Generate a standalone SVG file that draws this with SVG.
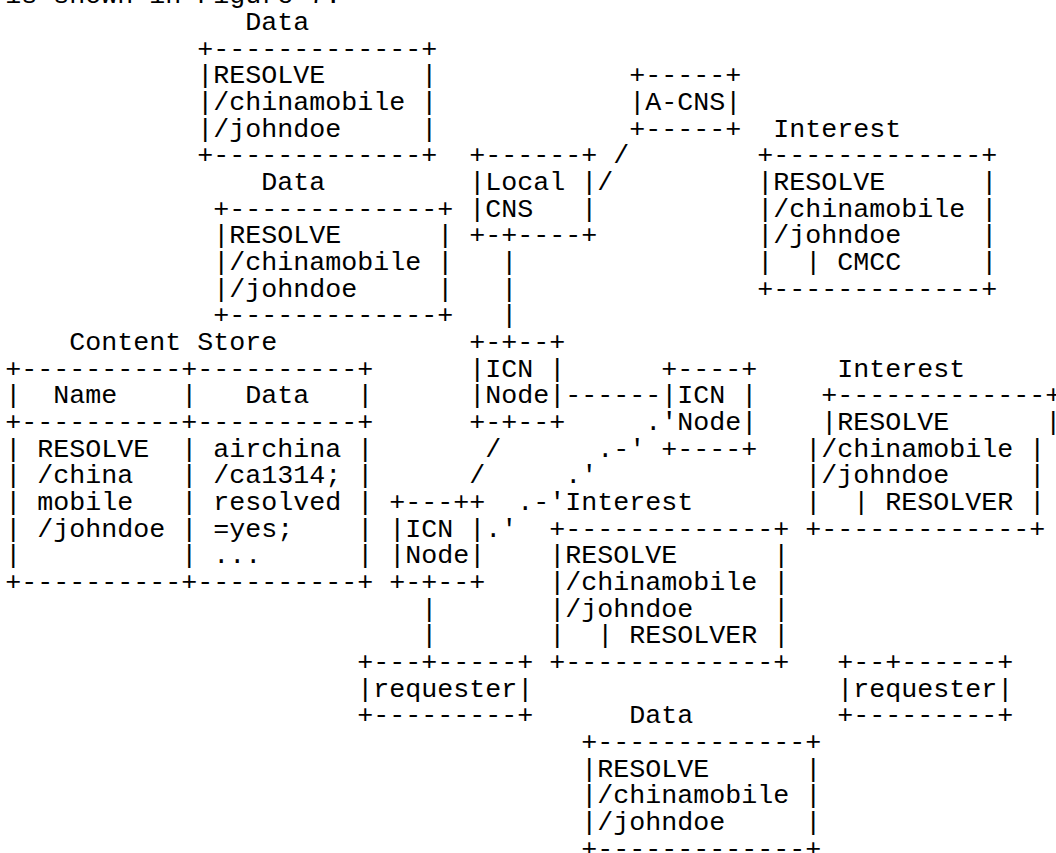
<svg xmlns="http://www.w3.org/2000/svg" width="1056" height="853" viewBox="0 0 1056 853" xml:space="preserve">
<style>
text{font-family:"Liberation Mono","Courier New",monospace;font-size:26.667px;fill:#000;white-space:pre}
</style>
<rect width="1056" height="853" fill="#fff"/>
<g id="intro"><text x="5.33" y="3.33">is shown in Figure 7.</text></g>
<g id="data-top">
<text x="245.33" y="30">Data</text>
<text x="197.33" y="56.67">+-------------+</text>
<text x="197.33" y="83.33">|RESOLVE      |</text>
<text x="197.33" y="110">|/chinamobile |</text>
<text x="197.33" y="136.67">|/johndoe     |</text>
<text x="197.33" y="163.33">+-------------+</text>
</g>
<g id="a-cns">
<text x="629.33" y="83.33">+-----+</text>
<text x="629.33" y="110">|A-CNS|</text>
<text x="629.33" y="136.67">+-----+</text>
</g>
<g id="interest-cmcc">
<text x="773.33" y="136.67">Interest</text>
<text x="757.33" y="163.33">+-------------+</text>
<text x="757.33" y="190">|RESOLVE      |</text>
<text x="757.33" y="216.67">|/chinamobile |</text>
<text x="757.33" y="243.33">|/johndoe     |</text>
<text x="757.33" y="270">|  | CMCC     |</text>
<text x="757.33" y="296.67">+-------------+</text>
</g>
<g id="local-cns">
<text x="469.33" y="163.33">+------+</text>
<text x="469.33" y="190">|Local |</text>
<text x="469.33" y="216.67">|CNS   |</text>
<text x="469.33" y="243.33">+-+----+</text>
</g>
<g id="data-second">
<text x="261.33" y="190">Data</text>
<text x="213.33" y="216.67">+-------------+</text>
<text x="213.33" y="243.33">|RESOLVE      |</text>
<text x="213.33" y="270">|/chinamobile |</text>
<text x="213.33" y="296.67">|/johndoe     |</text>
<text x="213.33" y="323.33">+-------------+</text>
</g>
<g id="content-store">
<text x="69.33" y="350">Content Store</text>
<text x="5.33" y="376.67">+----------+----------+</text>
<text x="5.33" y="403.33">|  Name    |   Data   |</text>
<text x="5.33" y="430">+----------+----------+</text>
<text x="5.33" y="456.67">| RESOLVE  | airchina |</text>
<text x="5.33" y="483.33">| /china   | /ca1314; |</text>
<text x="5.33" y="510">| mobile   | resolved |</text>
<text x="5.33" y="536.67">| /johndoe | =yes;    |</text>
<text x="5.33" y="563.33">|          | ...      |</text>
<text x="5.33" y="590">+----------+----------+</text>
</g>
<g id="icn-node-top">
<text x="469.33" y="350">+-+--+</text>
<text x="469.33" y="376.67">|ICN |</text>
<text x="469.33" y="403.33">|Node|</text>
<text x="469.33" y="430">+-+--+</text>
</g>
<g id="icn-node-right">
<text x="661.33" y="376.67">+----+</text>
<text x="661.33" y="403.33">|ICN |</text>
<text x="677.33" y="430">Node|</text>
<text x="661.33" y="456.67">+----+</text>
</g>
<g id="interest-resolver-right">
<text x="837.33" y="376.67">Interest</text>
<text x="821.33" y="403.33">+-------------+</text>
<text x="821.33" y="430">|RESOLVE      |</text>
<text x="805.33" y="456.67">|/chinamobile |</text>
<text x="805.33" y="483.33">|/johndoe     |</text>
<text x="805.33" y="510">|  | RESOLVER |</text>
<text x="805.33" y="536.67">+-------------+</text>
</g>
<g id="icn-node-left">
<text x="389.33" y="510">+---++</text>
<text x="389.33" y="536.67">|ICN |</text>
<text x="389.33" y="563.33">|Node|</text>
<text x="389.33" y="590">+-+--+</text>
</g>
<g id="interest-resolver-middle">
<text x="565.33" y="510">Interest</text>
<text x="549.33" y="536.67">+-------------+</text>
<text x="549.33" y="563.33">|RESOLVE      |</text>
<text x="549.33" y="590">|/chinamobile |</text>
<text x="549.33" y="616.67">|/johndoe     |</text>
<text x="549.33" y="643.33">|  | RESOLVER |</text>
<text x="549.33" y="670">+-------------+</text>
</g>
<g id="requester-left">
<text x="357.33" y="670">+---+-----+</text>
<text x="357.33" y="696.67">|requester|</text>
<text x="357.33" y="723.33">+---------+</text>
</g>
<g id="requester-right">
<text x="837.33" y="670">+--+------+</text>
<text x="837.33" y="696.67">|requester|</text>
<text x="837.33" y="723.33">+---------+</text>
</g>
<g id="data-bottom">
<text x="629.33" y="723.33">Data</text>
<text x="581.33" y="750">+-------------+</text>
<text x="581.33" y="776.67">|RESOLVE      |</text>
<text x="581.33" y="803.33">|/chinamobile |</text>
<text x="581.33" y="830">|/johndoe     |</text>
<text x="581.33" y="856.67">+-------------+</text>
</g>
<g id="connectors">
<text x="613.33" y="163.33">/</text>
<text x="597.33" y="190">/</text>
<text x="501.33" y="270">|</text>
<text x="501.33" y="296.67">|</text>
<text x="501.33" y="323.33">|</text>
<text x="565.33" y="403.33">------</text>
<text x="645.33" y="430">.'</text>
<text x="597.33" y="456.67">.-'</text>
<text x="565.33" y="483.33">.'</text>
<text x="517.33" y="510">.-'</text>
<text x="485.33" y="536.67">.'</text>
<text x="485.33" y="456.67">/</text>
<text x="469.33" y="483.33">/</text>
<text x="421.33" y="616.67">|</text>
<text x="421.33" y="643.33">|</text>
</g>
</svg>
